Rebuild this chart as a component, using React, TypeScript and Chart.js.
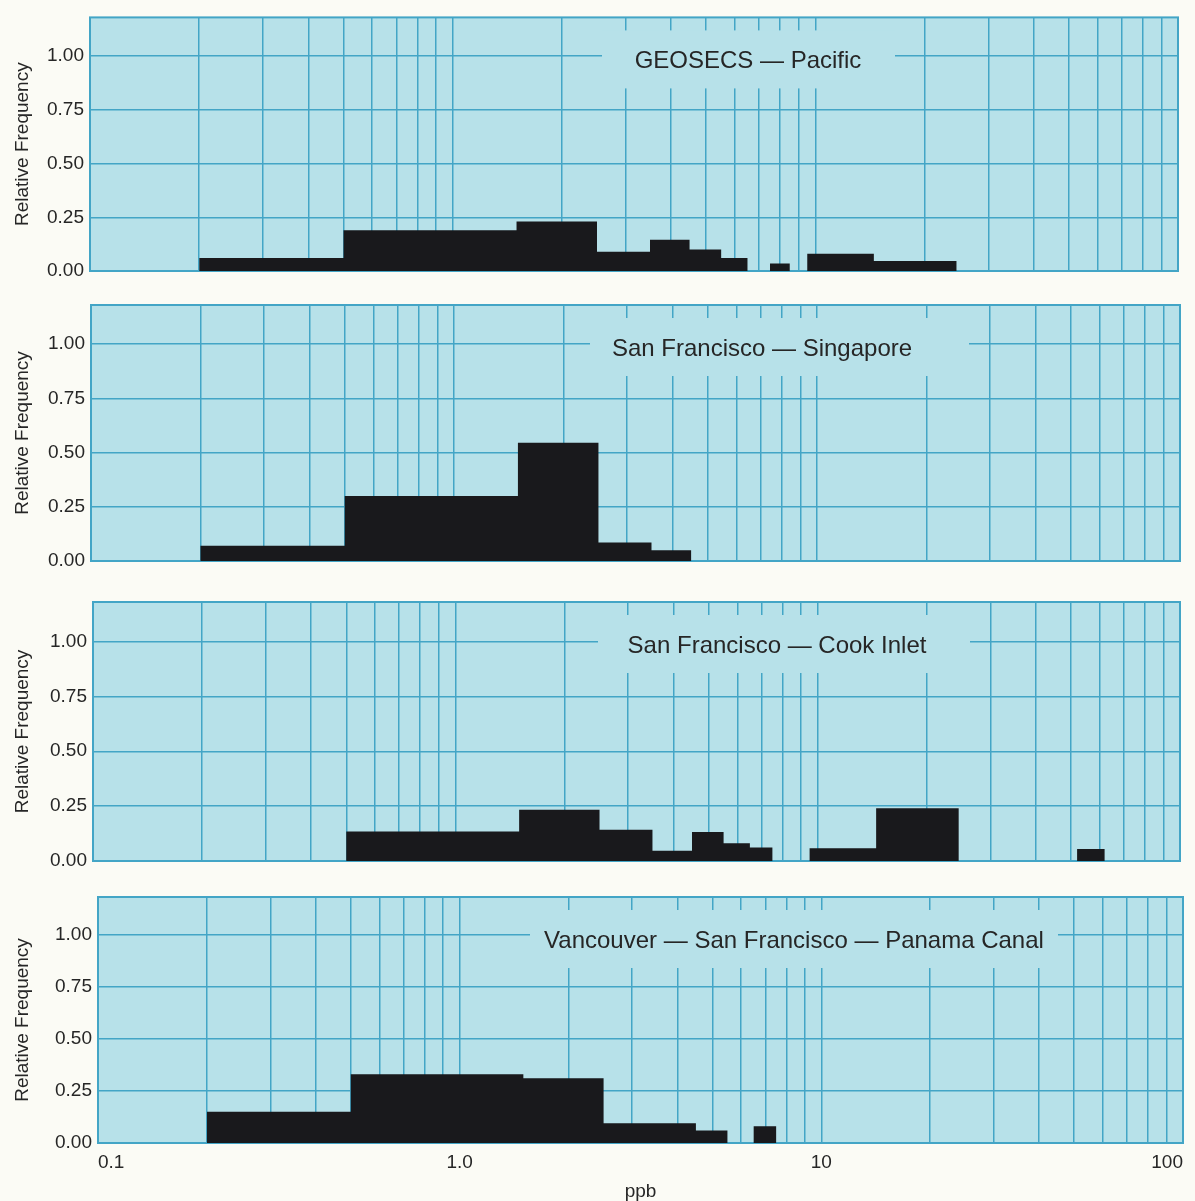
import React, { useEffect, useRef } from "react";
import { Chart, registerables } from "chart.js";

Chart.register(...registerables);

// ---- data ----
const BIN_EDGES = [0.2, 0.5, 1.5, 2.5, 3.5, 4.5, 5.5, 6.5, 7.5, 8.5, 9.5, 14.5, 24.5, 52, 62];

const GEOSECS_PACIFIC = [0.06, 0.19, 0.23, 0.09, 0.145, 0.1, 0.06, 0, 0.035, 0, 0.08, 0.047, 0, 0];
const SF_SINGAPORE = [0.07, 0.3, 0.545, 0.085, 0.05, 0, 0, 0, 0, 0, 0, 0, 0, 0];
const SF_COOK_INLET = [0, 0.134, 0.233, 0.142, 0.047, 0.132, 0.081, 0.061, 0, 0, 0.058, 0.24, 0, 0.055];
const VANCOUVER_PANAMA = [0.15, 0.33, 0.31, 0.095, 0.095, 0.06, 0, 0.08, 0, 0, 0, 0, 0, 0];

const PANEL_SERIES = [GEOSECS_PACIFIC, SF_SINGAPORE, SF_COOK_INLET, VANCOUVER_PANAMA];
const PANEL_TITLES = [
  "GEOSECS — Pacific",
  "San Francisco — Singapore",
  "San Francisco — Cook Inlet",
  "Vancouver — San Francisco — Panama Canal",
];

const X_TICK_VALUES = [
  0.1, 0.2, 0.3, 0.4, 0.5, 0.6, 0.7, 0.8, 0.9,
  1, 2, 3, 4, 5, 6, 7, 8, 9,
  10, 20, 30, 40, 50, 60, 70, 80, 90, 100,
];
const X_LABELLED_VALUES = [0.1, 1, 10, 100];
const X_LABELS = ["0.1", "1.0", "10", "100"];
const Y_TICK_VALUES = [0, 0.25, 0.5, 0.75, 1];
const Y_TICK_LABELS = ["0.00", "0.25", "0.50", "0.75", "1.00"];
const X_TITLE = "ppb";
const Y_TITLE = "Relative Frequency";
const X_MIN = 0.1;
const X_MAX = 100;
const Y_MAX = 1.18;

// ---- layout / style ----
const W = 1195;
const H = 1201;
const FONT = '"Liberation Sans", Arial, Helvetica, sans-serif';
const BG = "#b7e1e9";
const GRID = "#43a5c6";
const BAR = "#19191c";
const TEXT = "#262626";
const PAGE = "#fbfbf5";

const LAYOUT = [
  { left: 90, right: 1178, top: 15, bottom: 271, boxL: 602, boxR: 895, textX: 748 },
  { left: 91, right: 1180, top: 305, bottom: 561, boxL: 590, boxR: 969, textX: 762 },
  { left: 93, right: 1180, top: 602, bottom: 861, boxL: 598, boxR: 970, textX: 777 },
  { left: 98, right: 1183, top: 897, bottom: 1153, boxL: 530, boxR: 1058, textX: 794 },
];
const BOX_OFFSET = 13;
const BOX_H = 58;

function histogramPoints(values: number[]) {
  const pts = values.map((v, i) => ({ x: BIN_EDGES[i], y: v }));
  pts.push({ x: BIN_EDGES[values.length], y: values[values.length - 1] });
  return pts;
}

const panelDecor = {
  id: "panelDecor",
  beforeDraw(chart: any) {
    const { ctx, chartArea: a } = chart;
    ctx.save();
    ctx.fillStyle = BG;
    ctx.fillRect(a.left, a.top, a.right - a.left, a.bottom - a.top);
    ctx.restore();
  },
  beforeDatasetsDraw(chart: any, _args: any, opts: any) {
    const { ctx, chartArea: a } = chart;
    ctx.save();
    const top = a.top + BOX_OFFSET;
    ctx.fillStyle = BG;
    ctx.fillRect(opts.boxL, top, opts.boxR - opts.boxL, BOX_H);
    ctx.fillStyle = TEXT;
    ctx.font = `24px ${FONT}`;
    ctx.textAlign = "center";
    ctx.textBaseline = "middle";
    ctx.fillText(opts.text, opts.textX, top + BOX_H / 2 + 2);
    ctx.strokeStyle = GRID;
    ctx.lineWidth = 2;
    ctx.strokeRect(a.left, a.top, a.right - a.left, a.bottom - a.top);
    ctx.restore();
  },
};

function makeConfig(index: number): any {
  const L = LAYOUT[index];
  const isLast = index === LAYOUT.length - 1;
  return {
    type: "line",
    data: {
      datasets: [
        {
          data: histogramPoints(PANEL_SERIES[index]),
          stepped: "before",
          fill: "origin",
          backgroundColor: BAR,
          borderColor: "rgba(0,0,0,0)",
          borderWidth: 0,
          pointRadius: 0,
          pointHoverRadius: 0,
        },
      ],
    },
    options: {
      animation: false,
      responsive: false,
      events: [],
      layout: {
        autoPadding: false,
        padding: {
          left: 0,
          right: W - L.right,
          top: L.top,
          bottom: isLast ? H - L.bottom - 48 : H - L.bottom,
        },
      },
      plugins: {
        legend: { display: false },
        tooltip: { enabled: false },
        title: { display: false },
        panelDecor: { text: PANEL_TITLES[index], boxL: L.boxL, boxR: L.boxR, textX: L.textX },
      },
      scales: {
        x: {
          type: "logarithmic",
          min: X_MIN,
          max: X_MAX,
          afterBuildTicks: (s: any) => {
            s.ticks = X_TICK_VALUES.map((v) => ({ value: v }));
          },
          afterFit: (s: any) => {
            s.paddingLeft = 0;
            s.paddingRight = 0;
          },
          grid: { color: GRID, lineWidth: 1.5, drawTicks: false },
          border: { display: false },
          ticks: {
            display: isLast,
            autoSkip: false,
            maxRotation: 0,
            minRotation: 0,
            align: "inner",
            padding: 10,
            color: TEXT,
            font: { size: 19, family: FONT, lineHeight: 1 },
            callback: (v: number) => {
              const k = X_LABELLED_VALUES.findIndex((u) => Math.abs(u - v) < 1e-9);
              return k >= 0 ? X_LABELS[k] : "";
            },
          },
          title: {
            display: isLast,
            text: X_TITLE,
            color: TEXT,
            font: { size: 19, family: FONT, lineHeight: 1 },
            padding: { top: 0, bottom: 0 },
          },
        },
        y: {
          type: "linear",
          min: 0,
          max: Y_MAX,
          afterFit: (s: any) => {
            s.width = L.left;
          },
          afterBuildTicks: (s: any) => {
            s.ticks = Y_TICK_VALUES.map((v) => ({ value: v }));
          },
          grid: { color: GRID, lineWidth: 1.5, drawTicks: false },
          border: { display: false },
          ticks: {
            padding: 6,
            color: TEXT,
            font: { size: 19, family: FONT },
            callback: (v: number) => {
              const k = Y_TICK_VALUES.findIndex((u) => Math.abs(u - v) < 1e-9);
              return k >= 0 ? Y_TICK_LABELS[k] : "";
            },
          },
          title: {
            display: true,
            text: Y_TITLE,
            color: TEXT,
            font: { size: 19, family: FONT },
            padding: { top: 11, bottom: 0 },
          },
        },
      },
    },
    plugins: [panelDecor],
  };
}

function Panel({ index }: { index: number }) {
  const ref = useRef<HTMLCanvasElement>(null);
  useEffect(() => {
    const chart = new Chart(ref.current as HTMLCanvasElement, makeConfig(index));
    return () => chart.destroy();
  }, [index]);
  return (
    <canvas
      ref={ref}
      width={W}
      height={H}
      style={{ position: "absolute", left: 0, top: 0, width: W, height: H }}
    />
  );
}

export default function App() {
  return (
    <div
      style={{
        position: "absolute",
        left: 0,
        top: 0,
        width: W,
        height: H,
        background: PAGE,
        overflow: "hidden",
      }}
    >
      {LAYOUT.map((_, i) => (
        <Panel key={i} index={i} />
      ))}
    </div>
  );
}
